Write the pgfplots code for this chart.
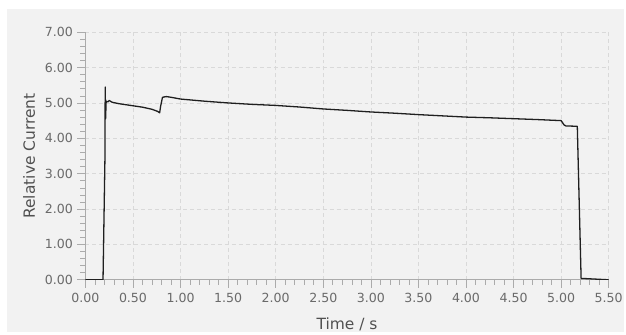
\documentclass[border=0pt]{standalone}
\usepackage{pgfplots}
\pgfplotsset{compat=1.18}
\usepackage{fontspec}
\setmainfont{DejaVu Sans}
\definecolor{bggray}{HTML}{F2F2F2}
\definecolor{gridgray}{HTML}{D9D9D9}
\definecolor{axgray}{HTML}{ABABAB}
\definecolor{txtgray}{HTML}{6A6A6A}
\definecolor{lblgray}{HTML}{505050}
\begin{document}
\begin{tikzpicture}
\fill[white] (-85.7pt,-52.3pt) rectangle (540.3pt,280.7pt);
\fill[bggray] (-78.7pt,-52.3pt) rectangle (540.3pt,271.7pt);
\begin{axis}[
  scale only axis,
  width=525pt, height=248.4pt,
  xmin=0, xmax=5.5, ymin=0, ymax=7,
  axis lines*=left,
  axis line style={draw=axgray, line width=0.8pt, -},
  xtick={0,0.5,...,5.5},
  ytick={0,1,...,7},
  minor x tick num=4, minor y tick num=4,
  tick align=outside,
  major tick length=8pt, minor tick length=5pt,
  every tick/.style={draw=axgray, line width=0.6pt},
  grid=major,
  major grid style={draw=gridgray, dash pattern=on 4pt off 3pt, line width=0.6pt},
  /pgf/number format/.cd, fixed, fixed zerofill, precision=2, assume math mode=true,
  /pgfplots/.cd,
  tick label style={font=\fontsize{12.6}{15}\selectfont, text=txtgray},
  xticklabel style={yshift=-2pt},
  yticklabel style={xshift=-1pt},
  xlabel={Time / s},
  ylabel={Relative Current},
  every axis x label/.style={at={(axis description cs:0.5,-0.2013)}, anchor=base, font=\fontsize{15.5}{18}\selectfont, text=lblgray},
  every axis y label/.style={at={(axis description cs:-0.0966,0.5)}, anchor=base, rotate=90, font=\fontsize{15.5}{18}\selectfont, text=lblgray},
]
\addplot[color=black!88, line width=1.3pt, line join=round] coordinates {
(0,0) (0.185,0) (0.205,3.4) (0.208,5.45) (0.212,4.55) (0.218,5.05)
(0.237,5.03) (0.25,5.07) (0.28,5.02) (0.35,4.98) (0.5,4.92) (0.6,4.88)
(0.7,4.82) (0.76,4.76) (0.78,4.72) (0.79,4.9) (0.81,5.16) (0.85,5.18)
(0.9,5.16) (1.0,5.11) (1.25,5.05) (1.5,5.0) (1.75,4.96) (2.0,4.93)
(2.25,4.885) (2.5,4.83) (2.75,4.79) (3.0,4.745) (3.25,4.71) (3.5,4.67)
(3.75,4.635) (4.0,4.60) (4.25,4.58) (4.5,4.555) (4.75,4.53) (5.0,4.50)
(5.03,4.38) (5.05,4.35) (5.17,4.34) (5.21,0.04) (5.5,0.0)
};
\end{axis}
\end{tikzpicture}
\end{document}
